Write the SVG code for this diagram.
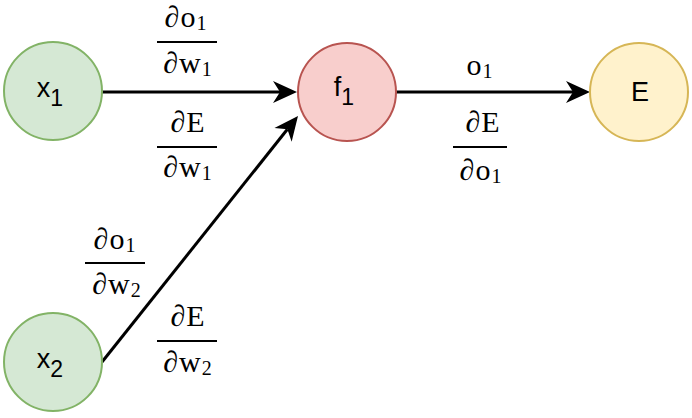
<svg xmlns="http://www.w3.org/2000/svg" width="692" height="418" viewBox="0 0 692 418">
<defs>
<style>
.node{stroke-width:2}
.green{fill:#d5e8d4;stroke:#82b366}
.red{fill:#f8cecc;stroke:#b85450}
.yellow{fill:#fff2cc;stroke:#d6b656}
.lbl{font-family:"Liberation Sans",Arial,sans-serif;font-size:27px;fill:#000;text-anchor:middle}
.lsub{font-size:23px}
.m{font-family:"Liberation Serif","Times New Roman",serif;font-size:30px;fill:#000;text-anchor:middle;letter-spacing:1px}
.ms{font-size:20px}
.bar{stroke:#000;stroke-width:2}
.edge{stroke:#000;stroke-width:3;fill:none}
</style>
<marker id="arr" markerUnits="userSpaceOnUse" markerWidth="26" markerHeight="26" viewBox="0 -12 26 24" refX="7" refY="0" orient="auto">
<path d="M0,-11 L24,0 L0,11 L7,0 Z" fill="#000"/>
</marker>
</defs>
<g id="edges">
<line class="edge" x1="102" y1="92" x2="280" y2="92" marker-end="url(#arr)"/>
<line class="edge" x1="396" y1="92" x2="573" y2="92" marker-end="url(#arr)"/>
<line class="edge" x1="102" y1="362" x2="287.4" y2="129.3" marker-end="url(#arr)"/>
</g>
<g id="node-x1">
<circle class="node green" cx="53" cy="91" r="49"/>
<text class="lbl" x="50" y="97">x<tspan class="lsub" dy="9">1</tspan></text>
</g>
<g id="node-x2">
<circle class="node green" cx="53" cy="362" r="49"/>
<text class="lbl" x="50" y="368">x<tspan class="lsub" dy="9">2</tspan></text>
</g>
<g id="node-f1">
<circle class="node red" cx="347" cy="92" r="49"/>
<text class="lbl" x="344" y="96">f<tspan class="lsub" dy="9">1</tspan></text>
</g>
<g id="node-E">
<circle class="node yellow" cx="639" cy="92" r="49"/>
<text class="lbl" x="640" y="101">E</text>
</g>
<g id="labels">
<g id="lbl-do1-dw1">
<text class="m" x="186" y="27">∂o<tspan class="ms" dy="3">1</tspan></text>
<line class="bar" x1="157" y1="42" x2="217" y2="42"/>
<text class="m" x="188" y="73">∂w<tspan class="ms" dy="3">1</tspan></text>
</g>
<g id="lbl-dE-dw1">
<text class="m" x="188" y="132">∂E</text>
<line class="bar" x1="157" y1="147" x2="217" y2="147"/>
<text class="m" x="188" y="177">∂w<tspan class="ms" dy="3">1</tspan></text>
</g>
<g id="lbl-o1">
<text class="m" x="480" y="75">o<tspan class="ms" dy="3">1</tspan></text>
</g>
<g id="lbl-dE-do1">
<text class="m" x="483" y="132">∂E</text>
<line class="bar" x1="453" y1="147" x2="507" y2="147"/>
<text class="m" x="481" y="180">∂o<tspan class="ms" dy="3">1</tspan></text>
</g>
<g id="lbl-do1-dw2">
<text class="m" x="115" y="249">∂o<tspan class="ms" dy="3">1</tspan></text>
<line class="bar" x1="85" y1="263" x2="145" y2="263"/>
<text class="m" x="117" y="294">∂w<tspan class="ms" dy="3">2</tspan></text>
</g>
<g id="lbl-dE-dw2">
<text class="m" x="188" y="326">∂E</text>
<line class="bar" x1="157" y1="341" x2="217" y2="341"/>
<text class="m" x="188" y="372">∂w<tspan class="ms" dy="3">2</tspan></text>
</g>
</g>
</svg>
